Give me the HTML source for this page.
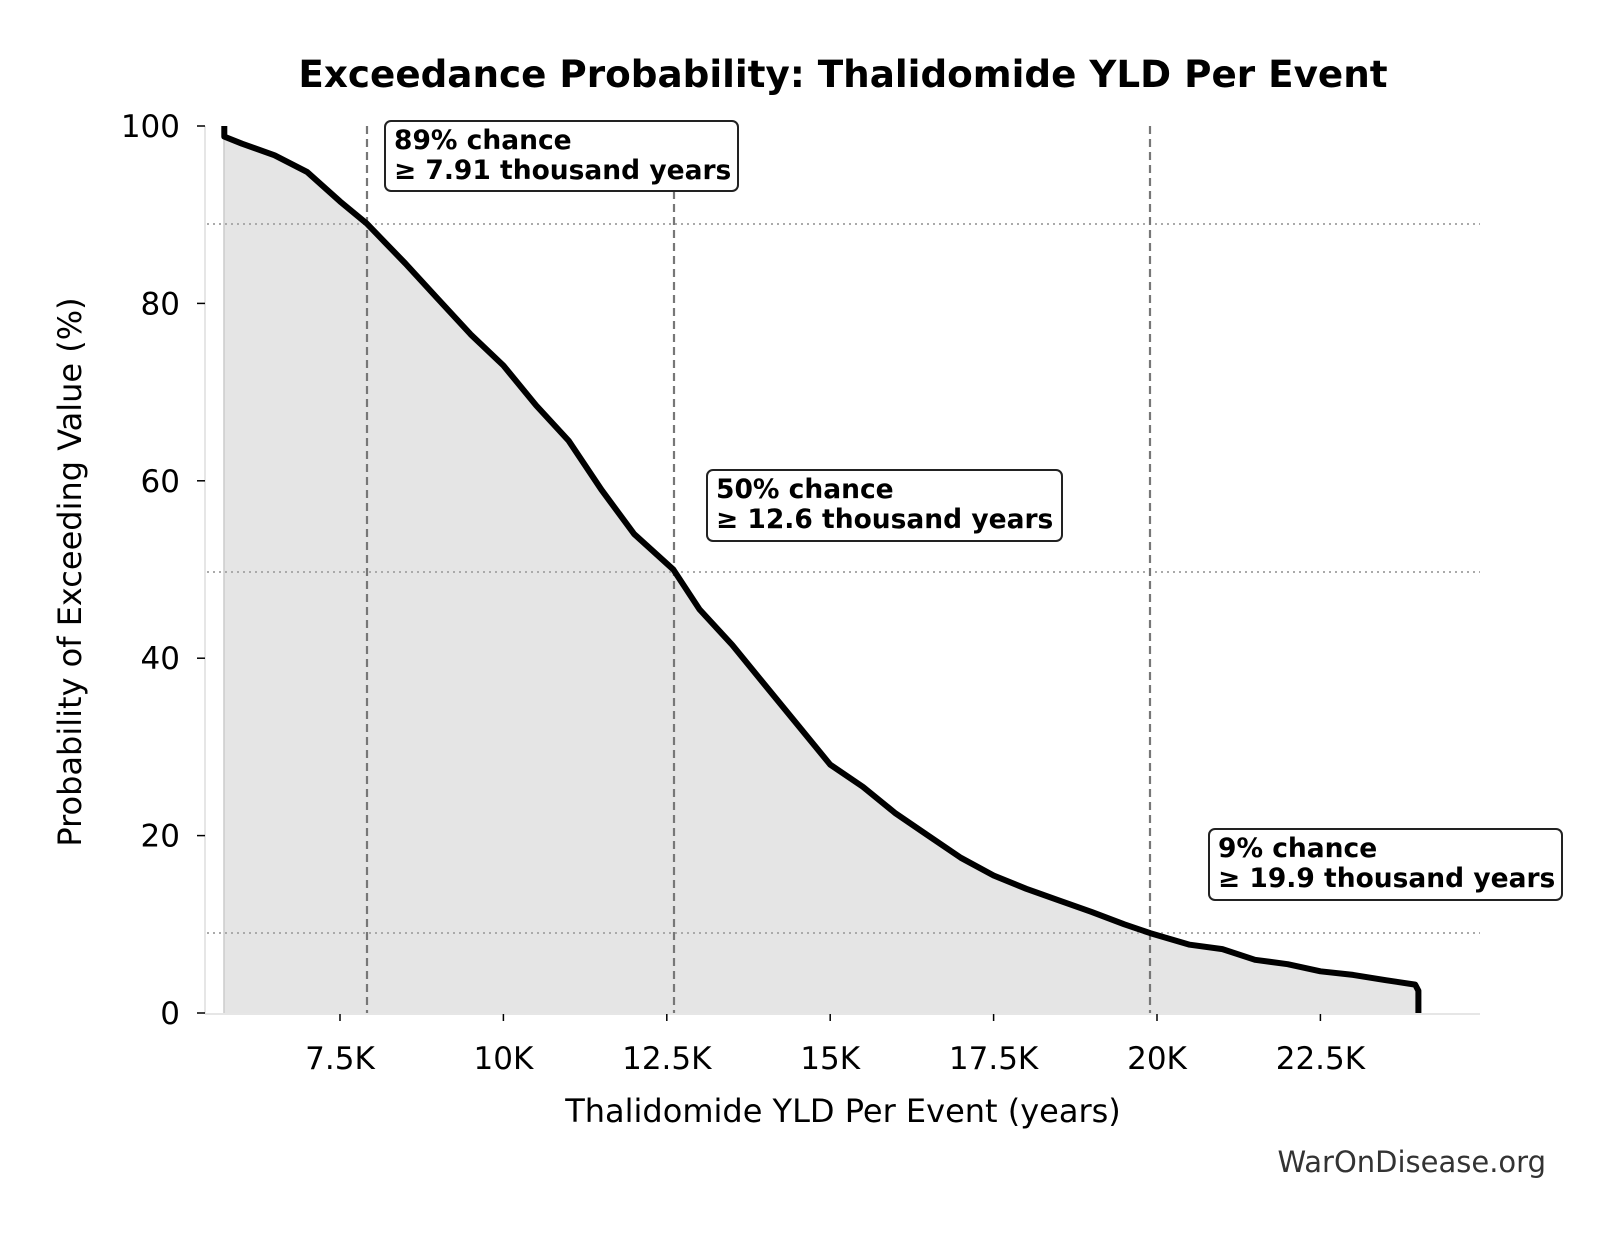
<!DOCTYPE html>
<html><head><meta charset="utf-8"><style>
html,body{margin:0;padding:0;background:#fff;}
svg{display:block;font-family:"DejaVu Sans","Liberation Sans",sans-serif;}
</style></head><body>
<svg id="s" width="1612" height="1234" viewBox="0 0 1612 1234" xmlns="http://www.w3.org/2000/svg">
<text x="843" y="87" font-size="37.3" font-weight="bold" text-anchor="middle">Exceedance Probability: Thalidomide YLD Per Event</text>
<path id="fill" fill="#e5e5e5" stroke="none"/>
<line x1="224" y1="126" x2="224" y2="1013" stroke="#ccc" stroke-width="1.5"/>
<g stroke="#aaa" stroke-width="2" stroke-dasharray="2,4">
<line x1="207" y1="224" x2="1480" y2="224"/>
<line x1="207" y1="572" x2="1480" y2="572"/>
<line x1="207" y1="933" x2="1480" y2="933"/>
</g>
<g stroke="#777" stroke-width="2.2" stroke-dasharray="8,5">
<line x1="367" y1="126" x2="367" y2="1013"/>
<line x1="674" y1="126" x2="674" y2="1013"/>
<line x1="1150" y1="126" x2="1150" y2="1013"/>
</g>
<path id="line" fill="none" stroke="#000" stroke-width="6" stroke-linejoin="round"/>
<line x1="205" y1="126" x2="205" y2="1014" stroke="#ddd" stroke-width="1.5"/>
<line x1="205" y1="1014" x2="1480" y2="1014" stroke="#ddd" stroke-width="1.5"/>
<g stroke="#000" stroke-width="1.5" id="ticks"></g>
<g font-size="31" id="labels"></g>
<text x="843" y="1122" font-size="32" text-anchor="middle">Thalidomide YLD Per Event (years)</text>
<text transform="translate(81,572) rotate(-90)" font-size="32" text-anchor="middle">Probability of Exceeding Value (%)</text>
<text x="1546" y="1172" font-size="29" fill="#333" text-anchor="end">WarOnDisease.org</text>
<g font-size="26.5" font-weight="bold">
<rect x="385" y="121" width="353" height="70" rx="6" fill="#fff" stroke="#222" stroke-width="2"/>
<text x="394" y="149">89% chance</text><text x="394" y="179">≥ 7.91 thousand years</text>
<rect x="707" y="470" width="355" height="71" rx="6" fill="#fff" stroke="#222" stroke-width="2"/>
<text x="716" y="498">50% chance</text><text x="716" y="528">≥ 12.6 thousand years</text>
<rect x="1209" y="829" width="353" height="71" rx="6" fill="#fff" stroke="#222" stroke-width="2"/>
<text x="1218" y="857">9% chance</text><text x="1218" y="887">≥ 19.9 thousand years</text>
</g>
</svg>
<script>
var X=function(v){return 340+(v-7.5)*65.36},Y=function(p){return 1013-p*8.87};
var d=[[5.73,100],[5.73,98.8],[6.0,98],[6.5,96.7],[7.0,94.8],[7.5,91.5],[7.91,89],[8.5,84.5],[9.0,80.5],[9.5,76.5],[10.0,73],[10.5,68.5],[11.0,64.5],[11.5,59],[12.0,54],[12.6,50],[13.0,45.5],[13.5,41.5],[14.0,37],[14.5,32.5],[15.0,28],[15.5,25.5],[16.0,22.5],[16.5,20],[17.0,17.5],[17.5,15.5],[18.0,14],[18.5,12.7],[19.0,11.4],[19.5,10],[19.9,9],[20.5,7.7],[21.0,7.2],[21.5,6],[22.0,5.5],[22.5,4.7],[23.0,4.3],[23.5,3.7],[23.95,3.2],[24.0,2.5],[24.0,0]];
var p=d.map(function(a,i){return (i?'L':'M')+X(a[0]).toFixed(1)+' '+Y(a[1]).toFixed(1)}).join(' ');
document.getElementById('line').setAttribute('d',p);
document.getElementById('fill').setAttribute('d',p+' L'+X(5.73)+' 1013 Z');
var t='',l='';
[[7.5,'7.5K'],[10,'10K'],[12.5,'12.5K'],[15,'15K'],[17.5,'17.5K'],[20,'20K'],[22.5,'22.5K']].forEach(function(a){var x=X(a[0]);t+='<line x1="'+x+'" y1="1014" x2="'+x+'" y2="1021"/>';l+='<text x="'+x+'" y="1069" text-anchor="middle">'+a[1]+'</text>';});
[0,20,40,60,80,100].forEach(function(v){var y=Y(v);t+='<line x1="197" y1="'+y+'" x2="205" y2="'+y+'"/>';l+='<text x="180" y="'+(y+11)+'" text-anchor="end">'+v+'</text>';});
document.getElementById('ticks').innerHTML=t;document.getElementById('labels').innerHTML=l;
</script>
</body></html>
